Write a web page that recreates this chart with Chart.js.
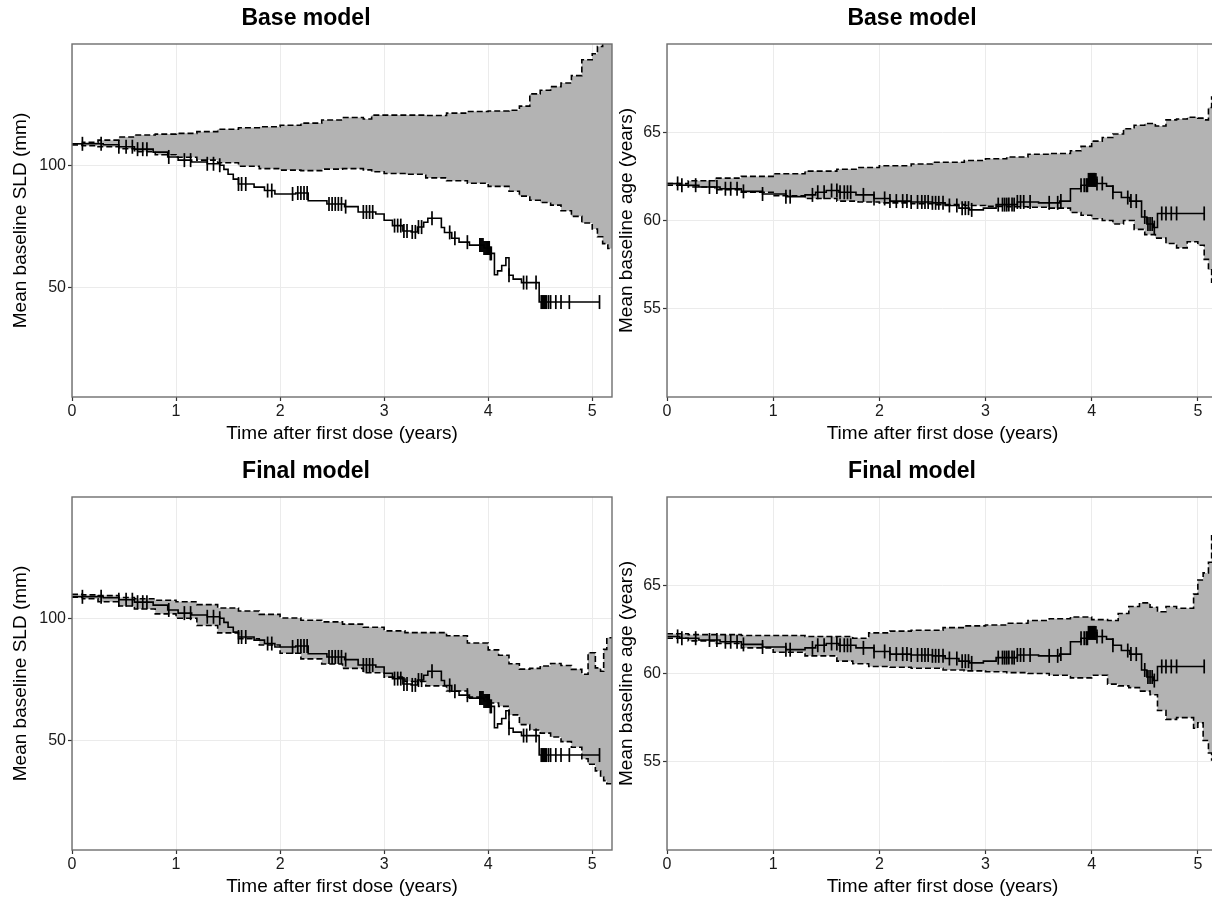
<!DOCTYPE html>
<html>
<head>
<meta charset="utf-8">
<script src="https://cdn.jsdelivr.net/npm/chart.js@4.4.1/dist/chart.umd.min.js"></script>
<style>
  html, body { margin: 0; padding: 0; background: #fff; overflow: hidden; width: 1212px; height: 900px; }
  .panel { position: absolute; }
</style>
</head>
<body>
<div class="panel" style="left:0px;top:0px"><canvas id="sldBase" width="628" height="450"></canvas></div>
<div class="panel" style="left:606px;top:0px"><canvas id="ageBase" width="626" height="450"></canvas></div>
<div class="panel" style="left:0px;top:453px"><canvas id="sldFinal" width="628" height="450"></canvas></div>
<div class="panel" style="left:606px;top:453px"><canvas id="ageFinal" width="626" height="450"></canvas></div>
<script>
// Tick values
const xTickValues = [0, 1, 2, 3, 4, 5];
const sldTickValues = [50, 100];
const ageTickValues = [55, 60, 65];

// Observed mean baseline SLD (step function, shared by both SLD panels)
const sldObsTimes = [0, 0.30, 0.45, 0.60, 0.78, 0.92, 1.02, 1.15, 1.30, 1.42, 1.46, 1.50, 1.55, 1.60, 1.75, 1.85, 1.95, 2.15, 2.27, 2.45, 2.62, 2.75, 2.92, 3.00, 3.08, 3.18, 3.26, 3.32, 3.38, 3.42, 3.55, 3.58, 3.65, 3.72, 3.82, 3.96, 4.02, 4.06, 4.09, 4.13, 4.17, 4.20, 4.24, 4.32, 4.49, 5.07];
const sldObsValues = [109, 108.6, 107.8, 106.8, 105.6, 103.6, 102.3, 101.5, 100.8, 100.2, 98.5, 96.5, 94.5, 92.5, 91.2, 89.8, 88.4, 88.8, 85.6, 84.3, 83.2, 81.0, 80.2, 77.6, 75.4, 73.2, 72.8, 74.8, 76.8, 78.4, 74.6, 72.6, 70.2, 68.6, 67.4, 66.2, 64.0, 55.2, 56.8, 59.0, 62.2, 55.0, 53.4, 52.0, 44.0, 44.0];
const sldCensorTimes = [0.10, 0.28, 0.45, 0.52, 0.58, 0.63, 0.68, 0.72, 0.93, 1.08, 1.14, 1.30, 1.36, 1.42, 1.60, 1.63, 1.67, 1.88, 1.92, 2.12, 2.17, 2.20, 2.23, 2.26, 2.47, 2.50, 2.53, 2.56, 2.59, 2.63, 2.80, 2.83, 2.86, 2.89, 3.10, 3.13, 3.16, 3.19, 3.22, 3.27, 3.30, 3.33, 3.36, 3.46, 3.63, 3.68, 3.80, 3.92, 3.93, 3.94, 3.95, 3.96, 3.97, 3.98, 3.99, 4.00, 4.01, 4.02, 4.03, 4.20, 4.34, 4.37, 4.46, 4.51, 4.52, 4.53, 4.54, 4.55, 4.56, 4.58, 4.60, 4.65, 4.70, 4.78, 5.07];

// Simulated band, base model SLD
const sldBaseBandTimes = [0, 0.1, 0.25, 0.45, 0.6, 0.8, 1.0, 1.2, 1.4, 1.6, 1.8, 2.0, 2.2, 2.4, 2.6, 2.8, 2.88, 3.0, 3.2, 3.4, 3.6, 3.8, 4.0, 4.2, 4.3, 4.4, 4.5, 4.6, 4.7, 4.8, 4.9, 5.0, 5.05, 5.1, 5.15, 5.25];
const sldBaseUpper = [109, 109.6, 110.5, 111.8, 112.6, 113, 113.3, 114, 115, 115.6, 116, 116.6, 117.5, 118.8, 119.8, 119.2, 120.8, 120.8, 120.8, 120.6, 121.6, 122.3, 122.5, 122.8, 124.5, 129.5, 131, 132.5, 134, 137, 143.5, 146, 149, 153, 156, 158];
const sldBaseLower = [108.5, 108.2, 107.8, 107.0, 105.8, 104.5, 103.5, 102.3, 101.2, 99.8, 98.8, 98.2, 98.0, 98.6, 98.8, 98.3, 97.5, 96.8, 96.5, 95.0, 93.8, 92.8, 91.5, 89.5, 87.5, 85.8, 84.9, 83.8, 81.5, 79.2, 76.5, 74.0, 70.8, 68.0, 66.0, 67.5];

// Simulated band, final model SLD
const sldFinalBandTimes = [0, 0.1, 0.25, 0.45, 0.6, 0.8, 1.0, 1.2, 1.4, 1.6, 1.8, 2.0, 2.2, 2.4, 2.6, 2.8, 3.0, 3.2, 3.4, 3.6, 3.8, 4.0, 4.1, 4.2, 4.3, 4.4, 4.5, 4.6, 4.7, 4.8, 4.9, 4.96, 5.03, 5.08, 5.11, 5.14, 5.25];
const sldFinalUpper = [110, 109.8, 109.5, 108.7, 108.2, 107.6, 107.0, 105.8, 104.4, 103.2, 101.8, 100.3, 99.4, 98.7, 97.8, 96.5, 95.0, 94.3, 94.3, 93.0, 90.0, 87.2, 85.0, 81.5, 79.3, 79.6, 80.6, 81.6, 80.8, 79.2, 77.2, 86.0, 79.8, 78.4, 87.4, 92.2, 91.5];
const sldFinalLower = [108.8, 108.2, 107, 105.2, 104, 102, 100.2, 97.2, 94.2, 91.8, 89.2, 85.8, 83.5, 81.4, 79.6, 77.8, 76.0, 74.2, 72.4, 70.3, 67.8, 65.4, 64.0, 60.5, 56.5, 54.3, 53.0, 51.4, 49.5, 47.2, 42.5, 40.2, 37.5, 35.0, 33.5, 32.2, 33.0];

// Observed mean baseline age (shared by both age panels)
const ageObsTimes = [0, 0.12, 0.30, 0.50, 0.70, 0.90, 1.12, 1.30, 1.40, 1.50, 1.62, 1.78, 1.95, 2.10, 2.30, 2.50, 2.62, 2.75, 2.85, 2.98, 3.10, 3.30, 3.50, 3.70, 3.80, 3.90, 3.97, 4.05, 4.14, 4.20, 4.28, 4.36, 4.47, 4.52, 4.58, 4.62, 5.06];
const ageObsValues = [62.1, 62.0, 61.9, 61.8, 61.65, 61.5, 61.35, 61.45, 61.6, 61.7, 61.6, 61.45, 61.25, 61.1, 61.05, 61.0, 60.85, 60.7, 60.6, 60.7, 60.9, 61.05, 61.0, 61.1, 61.8, 62.0, 62.3, 62.1, 61.95, 61.6, 61.3, 61.1, 60.2, 59.8, 59.6, 60.4, 60.4];
const ageCensorTimes = [0.10, 0.14, 0.27, 0.40, 0.47, 0.55, 0.60, 0.66, 0.72, 0.90, 1.12, 1.16, 1.37, 1.42, 1.48, 1.55, 1.60, 1.63, 1.67, 1.70, 1.73, 1.85, 1.95, 2.05, 2.10, 2.16, 2.22, 2.26, 2.30, 2.36, 2.40, 2.43, 2.46, 2.50, 2.53, 2.56, 2.60, 2.66, 2.73, 2.78, 2.81, 2.84, 2.87, 3.12, 3.16, 3.18, 3.20, 3.22, 3.25, 3.27, 3.30, 3.33, 3.36, 3.42, 3.60, 3.68, 3.71, 3.90, 3.93, 3.95, 3.96, 3.97, 3.98, 3.99, 4.00, 4.01, 4.02, 4.03, 4.04, 4.05, 4.10, 4.20, 4.34, 4.37, 4.42, 4.50, 4.53, 4.55, 4.57, 4.59, 4.66, 4.70, 4.75, 4.80, 5.06];

// Simulated band, base model age
const ageBaseBandTimes = [0, 0.2, 0.45, 0.7, 1.0, 1.3, 1.6, 1.8, 2.0, 2.3, 2.5, 2.8, 3.0, 3.2, 3.4, 3.6, 3.8, 3.9, 4.0, 4.1, 4.2, 4.3, 4.4, 4.5, 4.6, 4.7, 4.8, 4.9, 5.0, 5.06, 5.1, 5.13, 5.16, 5.25];
const ageBaseUpper = [62.1, 62.25, 62.4, 62.5, 62.65, 62.8, 62.9, 63.0, 63.1, 63.2, 63.3, 63.4, 63.5, 63.6, 63.75, 63.8, 63.95, 64.2, 64.5, 64.7, 64.9, 65.2, 65.4, 65.5, 65.35, 65.7, 65.75, 65.85, 65.8, 65.7, 66.4, 67.0, 67.2, 67.3];
const ageBaseLower = [62.0, 61.9, 61.75, 61.6, 61.4, 61.25, 61.1, 61.05, 61.0, 60.95, 60.9, 60.85, 60.8, 60.78, 60.75, 60.7, 60.45, 60.3, 60.1, 60.0, 59.8, 60.0, 59.5, 59.2, 59.0, 58.7, 58.45, 58.8, 58.6, 57.8, 57.2, 56.5, 56.0, 56.2];

// Simulated band, final model age
const ageFinalBandTimes = [0, 0.2, 0.45, 0.7, 1.0, 1.3, 1.6, 1.75, 1.9, 2.1, 2.3, 2.6, 2.8, 3.0, 3.2, 3.4, 3.6, 3.8, 4.0, 4.15, 4.25, 4.35, 4.45, 4.55, 4.62, 4.7, 4.8, 4.9, 4.96, 5.0, 5.05, 5.1, 5.13, 5.25];
const ageFinalUpper = [62.25, 62.2, 62.2, 62.15, 62.15, 62.1, 62.1, 62.0, 62.3, 62.4, 62.45, 62.6, 62.7, 62.75, 62.85, 63.0, 63.1, 63.2, 63.05, 63.0, 63.4, 63.8, 64.0, 63.75, 63.5, 63.8, 63.7, 63.7, 64.5, 65.3, 65.7, 66.3, 67.8, 68.0];
const ageFinalLower = [62.0, 61.85, 61.7, 61.45, 61.2, 61.0, 60.7, 60.55, 60.4, 60.35, 60.3, 60.2, 60.15, 60.1, 60.05, 60.0, 59.9, 59.75, 59.9, 59.4, 59.3, 59.2, 59.0, 58.8, 57.9, 57.4, 57.5, 57.5, 56.9, 57.2, 56.2, 55.5, 55.1, 55.0];

const FONT = "'Liberation Sans', Arial, sans-serif";

// value of a step function at time t
function stepValue(times, values, t) {
  let v = values[0];
  for (let i = 0; i < times.length; i++) {
    if (times[i] <= t + 1e-9) v = values[i]; else break;
  }
  return v;
}

function toPoints(times, values) {
  return times.map((t, i) => ({ x: t, y: values[i] }));
}

// grey frame round the plotting area (panel border)
const panelFrame = {
  id: 'panelFrame',
  afterDraw(chart) {
    const { ctx, chartArea: a } = chart;
    ctx.save();
    ctx.strokeStyle = '#6e6e6e';
    ctx.lineWidth = 1.4;
    ctx.strokeRect(a.left, a.top, a.right - a.left, a.bottom - a.top);
    ctx.restore();
  }
};

function makePanel(canvasId, cfg) {
  const datasets = [
    {
      label: 'upper',
      data: toPoints(cfg.bandTimes, cfg.upper),
      stepped: true,
      borderColor: '#000',
      borderWidth: 1.6,
      borderDash: [6, 3],
      pointRadius: 0,
      pointHoverRadius: 0,
      fill: false,
      clip: 0,
      order: 2
    },
    {
      label: 'lower',
      data: toPoints(cfg.bandTimes, cfg.lower),
      stepped: true,
      borderColor: '#000',
      borderWidth: 1.6,
      borderDash: [6, 3],
      pointRadius: 0,
      pointHoverRadius: 0,
      fill: '-1',
      backgroundColor: '#b3b3b3',
      clip: 0,
      order: 2
    },
    {
      label: 'observed',
      data: toPoints(cfg.obsTimes, cfg.obsValues),
      stepped: true,
      borderColor: '#000',
      borderWidth: 1.6,
      pointRadius: 0,
      pointHoverRadius: 0,
      fill: false,
      clip: 0,
      order: 1
    },
    {
      label: 'censored',
      data: cfg.censorTimes.map(t => ({ x: t, y: stepValue(cfg.obsTimes, cfg.obsValues, t) })),
      showLine: false,
      pointStyle: 'line',
      rotation: 90,
      pointRadius: 7,
      pointHoverRadius: 7,
      borderColor: '#000',
      borderWidth: 1.7,
      fill: false,
      order: 0
    }
  ];

  return new Chart(document.getElementById(canvasId), {
    type: 'line',
    data: { datasets: datasets },
    options: {
      responsive: false,
      animation: false,
      events: [],
      layout: { padding: { left: 0, right: cfg.padRight, top: 0, bottom: 0 } },
      plugins: {
        legend: { display: false },
        tooltip: { enabled: false },
        filler: { drawTime: 'beforeDatasetsDraw' },
        title: {
          display: true,
          text: cfg.title,
          color: '#000',
          font: { family: FONT, size: 23, weight: 'bold', lineHeight: 1.2 },
          padding: { top: 5, bottom: 11.4 }
        }
      },
      scales: {
        x: {
          type: 'linear',
          min: 0,
          max: 5.19,
          afterBuildTicks: (scale) => { scale.ticks = xTickValues.map(v => ({ value: v })); },
          afterFit: (scale) => { scale.height = 53; },
          border: { display: false },
          grid: { color: '#ebebeb', lineWidth: 1, tickColor: '#333', tickLength: 4, tickWidth: 1.2 },
          ticks: { color: '#1a1a1a', padding: 1, maxRotation: 0, font: { family: FONT, size: 16 } },
          title: {
            display: true,
            text: 'Time after first dose (years)',
            color: '#000',
            font: { family: FONT, size: 19, lineHeight: 1.2 },
            padding: { top: 0, bottom: 5 }
          }
        },
        y: {
          type: 'linear',
          min: cfg.yMin,
          max: cfg.yMax,
          afterBuildTicks: (scale) => { scale.ticks = cfg.yTicks.map(v => ({ value: v })); },
          afterFit: (scale) => { scale.width = cfg.yWidth; },
          border: { display: false },
          grid: { color: '#ebebeb', lineWidth: 1, tickColor: '#333', tickLength: 4, tickWidth: 1.2 },
          ticks: { color: '#1a1a1a', padding: 2, font: { family: FONT, size: 16 } },
          title: {
            display: true,
            text: cfg.yTitle,
            color: '#000',
            font: { family: FONT, size: 19, lineHeight: 1.2 },
            padding: { top: 9, bottom: 0 }
          }
        }
      }
    },
    plugins: [panelFrame]
  });
}

makePanel('sldBase', {
  title: 'Base model', yTitle: 'Mean baseline SLD (mm)',
  yMin: 5, yMax: 150, yTicks: sldTickValues, yWidth: 72, padRight: 16,
  bandTimes: sldBaseBandTimes, upper: sldBaseUpper, lower: sldBaseLower,
  obsTimes: sldObsTimes, obsValues: sldObsValues, censorTimes: sldCensorTimes
});
makePanel('ageBase', {
  title: 'Base model', yTitle: 'Mean baseline age (years)',
  yMin: 50, yMax: 70, yTicks: ageTickValues, yWidth: 61, padRight: 14,
  bandTimes: ageBaseBandTimes, upper: ageBaseUpper, lower: ageBaseLower,
  obsTimes: ageObsTimes, obsValues: ageObsValues, censorTimes: ageCensorTimes
});
makePanel('sldFinal', {
  title: 'Final model', yTitle: 'Mean baseline SLD (mm)',
  yMin: 5, yMax: 150, yTicks: sldTickValues, yWidth: 72, padRight: 16,
  bandTimes: sldFinalBandTimes, upper: sldFinalUpper, lower: sldFinalLower,
  obsTimes: sldObsTimes, obsValues: sldObsValues, censorTimes: sldCensorTimes
});
makePanel('ageFinal', {
  title: 'Final model', yTitle: 'Mean baseline age (years)',
  yMin: 50, yMax: 70, yTicks: ageTickValues, yWidth: 61, padRight: 14,
  bandTimes: ageFinalBandTimes, upper: ageFinalUpper, lower: ageFinalLower,
  obsTimes: ageObsTimes, obsValues: ageObsValues, censorTimes: ageCensorTimes
});
</script>
</body>
</html>
